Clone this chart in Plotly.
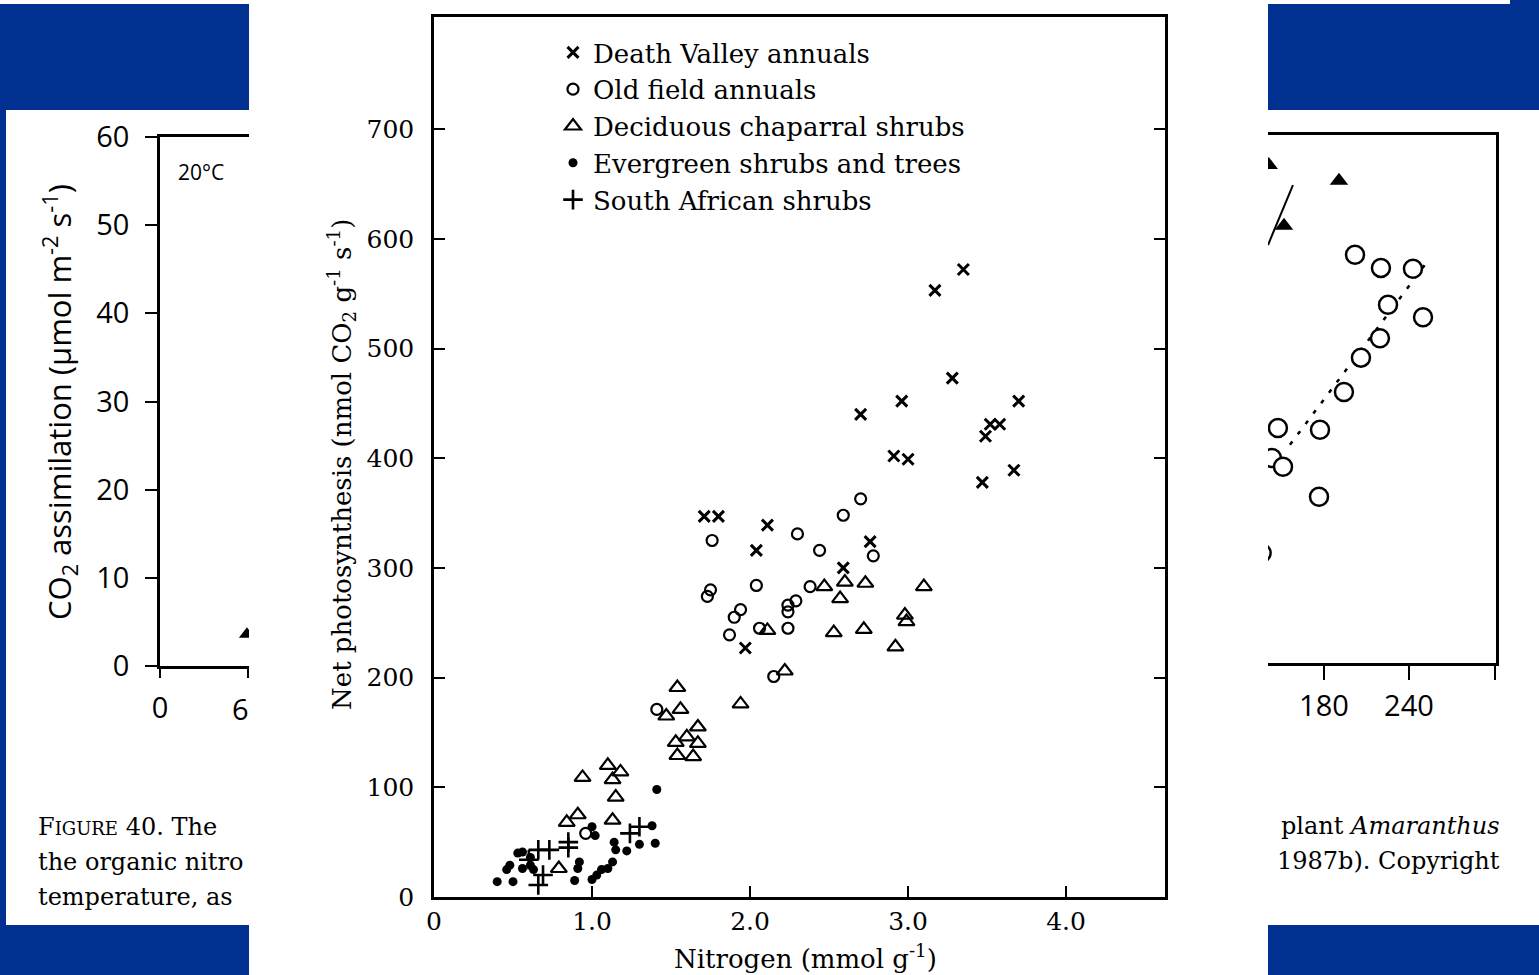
import plotly.graph_objects as go

W, H = 1539, 975
def fx(x): return x / W
def fy(y): return 1 - y / H

# ---------------- main chart data ----------------
DV_x = [3.35, 3.17, 3.28, 2.96, 2.70, 3.70, 3.52, 3.58, 3.49, 2.91, 3.00, 3.67, 3.47, 1.71, 1.80, 2.11, 2.04, 2.76, 2.59, 1.97]
DV_y = [572, 553, 473, 452, 440, 452, 431, 431, 420, 402, 399, 389, 378, 347, 347, 339, 316, 324, 300, 227]

OF_x = [1.76, 1.75, 1.73, 1.94, 1.90, 1.87, 2.04, 2.06, 2.30, 2.44, 2.59, 2.70, 2.78, 2.38, 2.24, 2.29, 2.24, 2.24, 2.15, 1.41, 0.96]
OF_y = [325, 280, 274, 262, 255, 239, 284, 245, 331, 316, 348, 363, 311, 283, 266, 270, 260, 245, 201, 171, 58]

CD_x = [1.54, 1.56, 1.47, 1.67, 1.53, 1.60, 1.67, 1.54, 1.64, 1.94, 2.11, 2.22, 2.47, 2.57, 2.60, 2.73, 2.53, 2.72, 2.92, 2.98, 2.99, 3.10,
        0.94, 1.10, 1.18, 1.13, 1.15, 0.91, 0.84, 1.13, 0.79]
CD_y = [191, 171, 165, 155, 141, 146, 140, 129, 128, 176, 243, 206, 283, 272, 287, 286, 241, 244, 228, 257, 251, 283,
        109, 120, 114, 107, 91, 75, 68, 70, 26]

EG_x = [1.41, 1.38, 1.40, 1.30, 1.22, 1.14, 1.15, 1.13, 1.10, 1.06, 1.03, 1.00, 0.92, 0.91, 0.89, 1.02, 1.00,
        0.56, 0.53, 0.61, 0.48, 0.46, 0.56, 0.61, 0.63, 0.40, 0.50]
EG_y = [98, 65, 49, 48, 42, 50, 43, 32, 26, 25, 20, 16, 32, 26, 15, 56, 64,
        41, 40, 36, 29, 25, 26, 29, 25, 14, 14]

SA_x = [1.30, 1.24, 0.85, 0.85, 0.73, 0.66, 0.69, 0.66, 0.60]
SA_y = [64, 58, 50, 45, 43, 43, 20, 11, 34]

series_names = ["Death Valley annuals", "Old field annuals", "Deciduous chaparral shrubs",
                "Evergreen shrubs and trees", "South African shrubs"]

x_tickvals = [0, 1, 2, 3, 4]
x_ticktext = ["0", "1.0", "2.0", "3.0", "4.0"]
y_tickvals = [0, 100, 200, 300, 400, 500, 600, 700]

# ---------------- background slide (partial figures) ----------------
L_tri_x = [59.3]
L_tri_y = [3.6]
L_yticks = [0, 10, 20, 30, 40, 50, 60]

AM_circ_x = [201.9, 220.2, 242.8, 225.2, 249.9, 219.5, 206.1, 194.1, 147.5, 177.2, 143.3, 151.1, 176.5, 136.0]
AM_circ_y = [46.4, 44.9, 44.8, 40.7, 39.3, 36.9, 34.7, 30.8, 26.7, 26.5, 23.3, 22.3, 18.9, 12.5]
AM_tri_x = [190.6, 151.8, 141.0]
AM_tri_y = [54.8, 49.7, 56.6]
AM_line_x = [140.5, 158.1]
AM_line_y = [47.5, 54.3]
AM_fit_x = [156, 251]
AM_fit_y = [24.8, 45.2]

SERIF = "DejaVu Serif"
SANS = "Open Sans"
BLUE = "#003090"

fig = go.Figure()

fig.add_trace(go.Scatter(x=DV_x, y=DV_y, mode="markers", name=series_names[0],
                         marker=dict(symbol="x-thin", size=11, line=dict(width=3, color="black"), color="black")))
fig.add_trace(go.Scatter(x=OF_x, y=OF_y, mode="markers", name=series_names[1],
                         marker=dict(symbol="circle-open", size=11, line=dict(width=2.2, color="black"), color="black")))
fig.add_trace(go.Scatter(x=CD_x, y=CD_y, mode="markers", name=series_names[2],
                         marker=dict(symbol="triangle-up-open", size=14, line=dict(width=2.2, color="black"), color="black")))
fig.add_trace(go.Scatter(x=EG_x, y=EG_y, mode="markers", name=series_names[3],
                         marker=dict(symbol="circle", size=9, color="black")))
fig.add_trace(go.Scatter(x=SA_x, y=SA_y, mode="markers", name=series_names[4],
                         marker=dict(symbol="cross-thin", size=14, line=dict(width=2.6, color="black"), color="black")))

# left partial chart
fig.add_trace(go.Scatter(x=L_tri_x, y=L_tri_y, mode="markers", xaxis="x2", yaxis="y2", showlegend=False,
                         marker=dict(symbol="triangle-up", size=14, color="black")))
# right partial chart
fig.add_trace(go.Scatter(x=AM_line_x, y=AM_line_y, mode="lines", xaxis="x3", yaxis="y3", showlegend=False,
                         line=dict(color="black", width=2)))
fig.add_trace(go.Scatter(x=AM_fit_x, y=AM_fit_y, mode="lines", xaxis="x3", yaxis="y3", showlegend=False,
                         line=dict(color="black", width=2.5, dash="4px,9px")))
fig.add_trace(go.Scatter(x=AM_circ_x, y=AM_circ_y, mode="markers", xaxis="x3", yaxis="y3", showlegend=False,
                         marker=dict(symbol="circle", size=18, color="white", line=dict(width=2.5, color="black"))))
fig.add_trace(go.Scatter(x=AM_tri_x, y=AM_tri_y, mode="markers", xaxis="x3", yaxis="y3", showlegend=False,
                         marker=dict(symbol="triangle-up", size=16, color="black")))

shapes = []
def rect(x0, y0, x1, y1, color):
    shapes.append(dict(type="rect", xref="paper", yref="paper", x0=fx(x0), x1=fx(x1), y0=fy(y1), y1=fy(y0),
                       line=dict(width=0), fillcolor=color, layer="below"))
rect(0, 4, 249, 110, BLUE)
rect(0, 4, 6, 975, BLUE)
rect(0, 925, 249, 975, BLUE)
rect(1268, 4, 1539, 110, BLUE)
rect(1510, 0, 1539, 4, BLUE)
rect(1268, 925, 1539, 975, BLUE)

ann = []
def note(text, x, y, size, family, xanchor="center", yanchor="middle", angle=0):
    ann.append(dict(text=text, x=fx(x), y=fy(y), xref="paper", yref="paper", showarrow=False,
                    xanchor=xanchor, yanchor=yanchor, textangle=angle,
                    font=dict(family=family, size=size, color="black")))

# main axis titles
note("Net photosynthesis (nmol CO<sub>2</sub> g<sup>-1</sup> s<sup>-1</sup>)", 341, 465, 26, SERIF, angle=-90)
note("Nitrogen (mmol g<sup>-1</sup>)", 805, 957, 26, SERIF)
# left partial chart texts
note("CO<sub>2</sub> assimilation (μmol m<sup>-2</sup> s<sup>-1</sup>)", 60, 402, 31, SANS, angle=-90)
note("20°C", 201, 172, 21, SANS)
note("6", 230, 708, 29, SANS, xanchor="left")
# captions
CAP = "DejaVu Serif"
for i, t in enumerate(["F<span style='font-size:18px'>IGURE</span> 40. The",
                       "the organic nitro",
                       "temperature, as"]):
    note(t, 36, 827 + 35 * i, 24, CAP, xanchor="left")
for i, t in enumerate(["plant <i>Amaranthus</i>", "1987b). Copyright"]):
    note(t, 1502, 826 + 35 * i, 24, CAP, xanchor="right")

axis_common = dict(showgrid=False, zeroline=False, showline=True, linecolor="black", ticks="inside",
                   tickcolor="black", automargin=False)

fig.update_layout(
    width=W, height=H, autosize=False,
    margin=dict(l=0, r=0, t=0, b=0, pad=0, autoexpand=False),
    paper_bgcolor="white", plot_bgcolor="white",
    shapes=shapes, annotations=ann,
    showlegend=True,
    legend=dict(x=fx(553), y=fy(29), xanchor="left", yanchor="top", bgcolor="rgba(0,0,0,0)",
                font=dict(family=SERIF, size=26, color="black"), tracegroupgap=0, itemwidth=30),
    xaxis=dict(domain=[fx(434), fx(1165)], range=[0, 4.626], tickvals=x_tickvals, ticktext=x_ticktext,
               linewidth=2.5, mirror=True, ticklen=11, tickwidth=2, ticklabelstandoff=0,
               tickfont=dict(family=SERIF, size=25, color="black"), anchor="y", **axis_common),
    yaxis=dict(domain=[fy(897), fy(17)], range=[0, 802.2], tickvals=y_tickvals,
               linewidth=2.5, mirror="ticks", ticklen=11, tickwidth=2, ticklabelstandoff=12,
               tickfont=dict(family=SERIF, size=25, color="black"), anchor="x", **axis_common),
    xaxis2=dict(domain=[fx(160), fx(249)], range=[0, 60.7], tickvals=[0, 60], ticktext=["0", ""],
                showgrid=False, zeroline=False, showline=True, linecolor="black", linewidth=2.5, mirror=True,
                ticks="outside", ticklen=9, tickwidth=2, tickcolor="black", anchor="y2", automargin=False,
                tickfont=dict(family=SANS, size=29, color="black"), ticklabelstandoff=5),
    yaxis2=dict(domain=[fy(666), fy(137)], range=[0, 60], tickvals=L_yticks,
                showgrid=False, zeroline=False, showline=True, linecolor="black", linewidth=2.5,
                ticks="outside", ticklen=12, tickwidth=2, tickcolor="black", anchor="x2", automargin=False,
                tickfont=dict(family=SANS, size=29, color="black"), ticklabelstandoff=10),
    xaxis3=dict(domain=[fx(1268), fx(1496)], range=[140.5, 301.4], tickvals=[180, 240, 301],
                ticktext=["180", "240", ""],
                showgrid=False, zeroline=False, showline=True, linecolor="black", linewidth=2.5, mirror=True,
                ticks="outside", ticklen=14, tickwidth=2, tickcolor="black", anchor="y3", automargin=False,
                tickfont=dict(family=SANS, size=29, color="black"), ticklabelstandoff=1),
    yaxis3=dict(domain=[fy(663), fy(135)], range=[0, 60], side="right", showticklabels=False,
                showgrid=False, zeroline=False, showline=True, linecolor="black", linewidth=2.5,
                ticks="", anchor="x3", automargin=False),
)

fig.write_html("out.html")
